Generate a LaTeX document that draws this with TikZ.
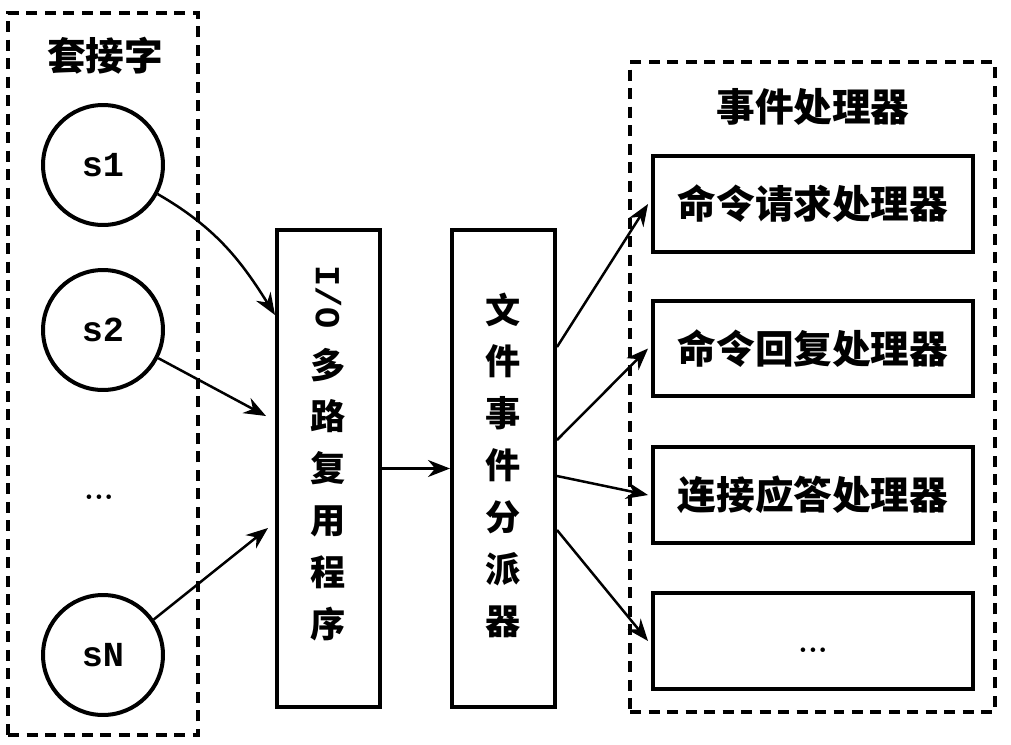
\documentclass[tikz,border=0pt]{standalone}
\usepackage{fontspec}
\setmonofont{Liberation Mono}
\newfontfamily\cjk{Noto Sans CJK SC}
\usetikzlibrary{arrows.meta,calc}
\begin{document}
\begin{tikzpicture}[x=0.02cm,y=-0.02cm,
  dashbox/.style={draw, line width=0.07cm, dash pattern=on 0.22cm off 0.15cm, inner sep=0pt},
  sock/.style={circle, draw, line width=0.08cm, minimum size=2.4cm, inner sep=0pt, font=\ttfamily\bfseries\fontsize{20}{24}\selectfont},
  vbox/.style={draw, line width=0.08cm, minimum width=2.06cm, minimum height=9.54cm, inner sep=0pt},
  vtext/.style={align=center, inner sep=0pt, font=\cjk\bfseries\fontsize{20}{29.5}\selectfont},
  hbox/.style={draw, line width=0.08cm, minimum width=6.4cm, minimum height=1.92cm, inner sep=0pt, font=\cjk\bfseries\fontsize{22}{26}\selectfont},
  title/.style={font=\cjk\bfseries\fontsize{22}{26}\selectfont},
  ell/.style={font=\bfseries\fontsize{18}{20}\selectfont},
  arr/.style={-{Stealth[length=0.44cm,width=0.34cm]}, line width=0.05cm},
]
\useasboundingbox (0,0) rectangle (1011,744);
% dashed groups
\node[dashbox, minimum width=3.8cm, minimum height=14.44cm] (left) at (103,374) {};
\node[dashbox, minimum width=7.3cm, minimum height=13cm] (right) at (812.5,387) {};
\node[title] (ltitle) at (105,56) {套接字};
\node[title] (rtitle) at (813,107) {事件处理器};
% sockets
\node[sock] (s1) at (103,165) {s1};
\node[sock] (s2) at (103,330) {s2};
\node[ell] (dots) at (99,497) {...};
\node[sock] (sN) at (103,655) {sN};
% multiplexer and dispatcher
\node[vbox] (io) at (328.5,468.5) {};
\node[vtext] (iotext) at (328.5,453) {\rotatebox{-90}{\ttfamily I/O}\\[10pt]多\\路\\复\\用\\程\\序};
\node[vbox] (disp) at (503.5,468.5) {};
\node[vtext] (disptext) at (503.5,465) {文\\件\\事\\件\\分\\派\\器};
% handlers
\node[hbox] (h1) at (813,204) {命令请求处理器};
\node[hbox] (h2) at (813,348.5) {命令回复处理器};
\node[hbox] (h3) at (813,495) {连接应答处理器};
\node[hbox, ell, text height=0.46cm, text depth=0pt] (h4) at (813,641) {...};
% connectors
\draw[arr] (s1.-28) to[out=-30,in=122] ([yshift=-1.74cm]io.north west);
\draw[arr] (s2.-27) -- ([xshift=-0.18cm,yshift=-3.76cm]io.north west);
\draw[arr] (sN.35) -- ([xshift=-0.14cm,yshift=-6.0cm]io.north west);
\draw[arr] (io.east) -- (disp.west);
\draw[arr] ([yshift=-2.38cm]disp.north east) -- ([xshift=-0.06cm]h1.west);
\draw[arr] ([yshift=-4.24cm]disp.north east) -- ([xshift=-0.06cm]h2.west);
\draw[arr] ([yshift=-4.96cm]disp.north east) -- ([xshift=-0.06cm]h3.west);
\draw[arr] ([yshift=-6.04cm]disp.north east) -- ([xshift=-0.06cm]h4.west);
\end{tikzpicture}
\end{document}
